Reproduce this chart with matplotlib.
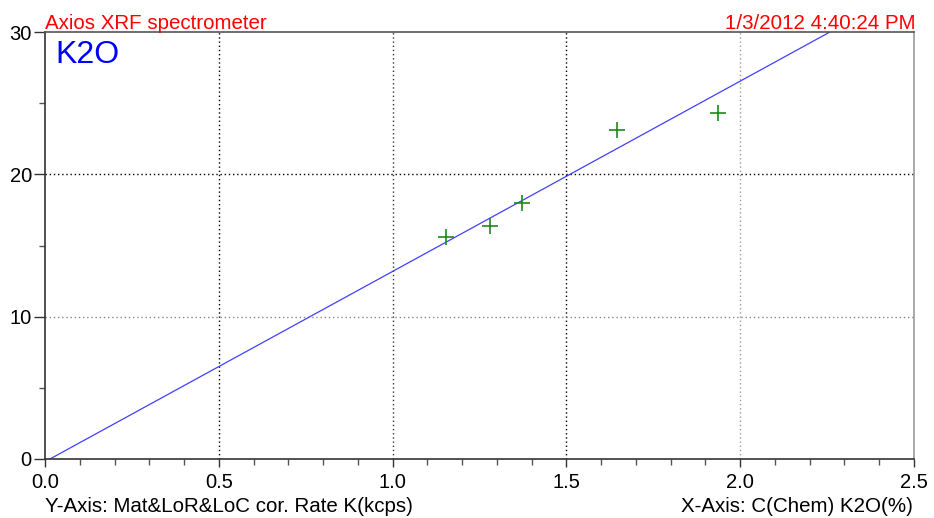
import matplotlib
matplotlib.use("Agg")
import matplotlib.pyplot as plt
import numpy as np
from matplotlib.ticker import MultipleLocator

plt.rcParams["font.family"] = ["Liberation Sans", "DejaVu Sans"]

# standards: chemical concentration vs corrected rate
conc = [1.154, 1.280, 1.372, 1.646, 1.936]
rate = [15.6, 16.4, 18.0, 23.1, 24.3]

# calibration line
slope = 13.37
intercept = -0.19

x_major = [0.0, 0.5, 1.0, 1.5, 2.0, 2.5]
y_major = [0, 10, 20, 30]

fig = plt.figure(figsize=(9.34, 5.18), dpi=100)
ax = fig.add_axes([0.0482, 0.1139, 0.9304, 0.8243])

ax.set_xlim(0, 2.5)
ax.set_ylim(0, 30)

# grid lines, some darker than others like the original
dot = (0, (1, 2))
for xv, col in zip(x_major[1:-1], ["black", "#333333", "black", "#999999"]):
    ax.axvline(xv, color=col, lw=1, ls=dot, zorder=1)
for yv, col in zip(y_major[1:-1], ["#888888", "black"]):
    ax.axhline(yv, color=col, lw=1, ls=dot, zorder=1)

xs = np.array([0.0, 2.5])
ax.plot(xs, slope * xs + intercept, color="#4040ff", lw=0.9, zorder=2)
ax.plot(conc, rate, "+", color="#1a8a1a", ms=12, mew=1.2, zorder=3)

ax.set_xticks(x_major)
ax.set_xticklabels([f"{v:.1f}" for v in x_major])
ax.set_yticks(y_major)
ax.xaxis.set_minor_locator(MultipleLocator(0.1))
ax.yaxis.set_minor_locator(MultipleLocator(5))
ax.tick_params(axis="both", which="major", length=8, width=1, color="#333333",
               labelsize=14.5)
ax.tick_params(axis="y", which="major", pad=1.5)
ax.tick_params(axis="x", which="major", length=6, pad=4)
ax.tick_params(axis="both", which="minor", length=4, width=1, color="#555555")

ax.spines["left"].set_color("#333333")
ax.spines["bottom"].set_color("#333333")
ax.spines["top"].set_color("#555555")
ax.spines["right"].set_color("#999999")
for s in ax.spines.values():
    s.set_linewidth(1.2)

ax.text(0.0115, 0.927, "K2O", transform=ax.transAxes, color="blue",
        fontsize=23, ha="left", va="baseline")
fig.text(0.0482, 0.944, "Axios XRF spectrometer", color="red",
         fontsize=14.8, ha="left", va="baseline")
fig.text(0.98, 0.944, "1/3/2012 4:40:24 PM", color="red",
         fontsize=14.8, ha="right", va="baseline")
fig.text(0.0482, 0.0125, "Y-Axis: Mat&LoR&LoC cor. Rate K(kcps)",
         fontsize=14.8, ha="left", va="baseline")
fig.text(0.977, 0.0125, "X-Axis: C(Chem) K2O(%)",
         fontsize=14.8, ha="right", va="baseline")

fig.savefig("out.png", dpi=100)
